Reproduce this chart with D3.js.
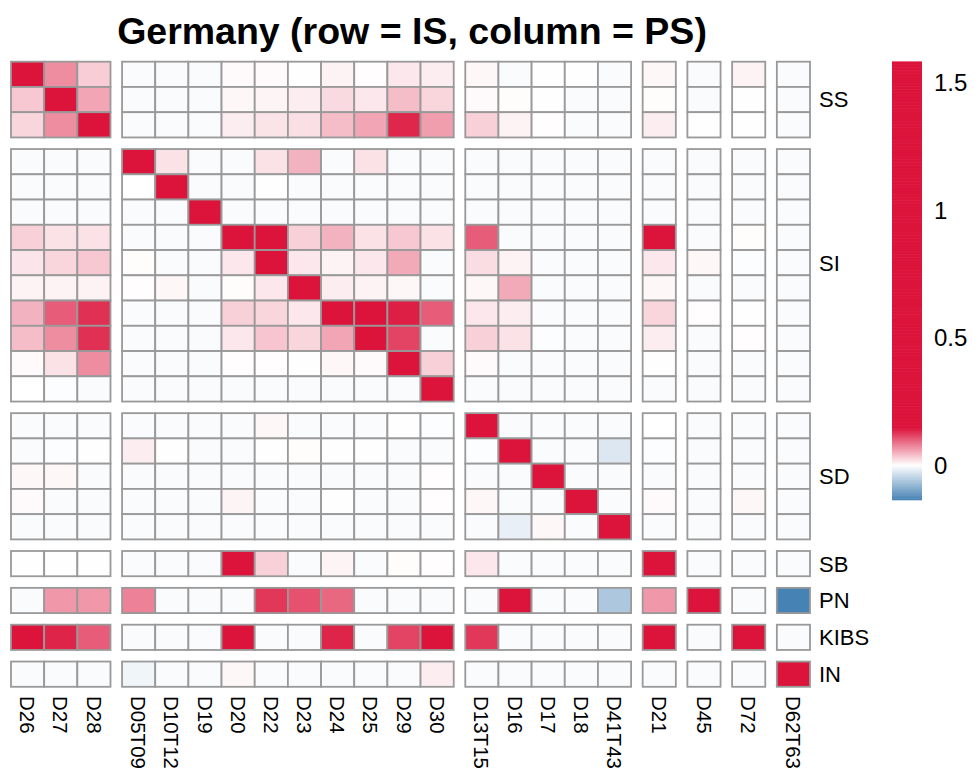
<!DOCTYPE html>
<html>
<head>
<meta charset="utf-8">
<script src="https://cdn.jsdelivr.net/npm/d3@7"></script>
<style>
  html, body { margin: 0; padding: 0; background: #ffffff; }
  svg { display: block; font-family: "Liberation Sans", Arial, Helvetica, sans-serif; }
</style>
</head>
<body>
<svg id="chart" width="979" height="783"></svg>
<script>
// ---------------- data ----------------
const title = "Germany (row = IS, column = PS)";
const sectors = ["D26","D27","D28",
  "D05T09","D10T12","D19","D20","D22","D23","D24","D25","D29","D30",
  "D13T15","D16","D17","D18","D41T43",
  "D21","D45","D72","D62T63"];
const groupNames = ["SS","SI","SD","SB","PN","KIBS","IN"];
const groupSizes = [3, 10, 5, 1, 1, 1, 1];
const legendTicks = [0, 0.5, 1, 1.5];
const legendRange = [-0.133, 1.582];

// rows = IS (same sector order as columns = PS)
const values = [
  // SS
  [1.21,0.075,0.035, 0,0,0,0.008,0.008,0.003,0.012,0.005,0.018,0.015, 0.009,0,0.003,0.003,0, 0.009,0,0.012,0],
  [0.038,1.35,0.06, 0,0,0,0.009,0.011,0.015,0.027,0.018,0.045,0.03, 0.008,0.006,0.003,0,0, 0.006,0,0.003,0],
  [0.03,0.075,1.18, 0,0,0,0.015,0.021,0.024,0.045,0.06,0.138,0.065, 0.033,0.012,0.005,0,0, 0.015,0.003,0.003,0],
  // SI
  [0,0,0, 1.58,0.022,0,0,0.022,0.052,0,0.022,0,0, 0,0,0,0,0, 0,0,0,0],
  [0,0,0, 0.004,1.1,0,0,0.003,0,0,0,0,0, 0,0,0,0,0, 0,0,0,0],
  [0,0,0, 0,0,1.45,0,0,0,0,0,0,0, 0,0,0,0,0, 0,0,0,0],
  [0.033,0.022,0.022, 0,0,0,0.95,0.42,0.033,0.052,0.022,0.038,0.022, 0.105,0,0,0,0, 0.38,0,0.006,0],
  [0.02,0.03,0.038, 0.006,0,0,0.018,1.02,0.018,0.012,0.018,0.057,0, 0.025,0.012,0,0,0, 0.018,0.009,0.002,0],
  [0.012,0.012,0.012, 0.005,0.009,0,0.006,0.018,1.26,0.015,0.012,0.009,0, 0.009,0.057,0,0,0, 0.009,0,0,0],
  [0.052,0.105,0.132, 0,0,0,0.033,0.03,0.018,1.15,0.31,0.143,0.105, 0.018,0.015,0,0,0, 0.03,0.005,0.003,0],
  [0.045,0.075,0.132, 0,0,0,0.018,0.04,0.03,0.06,1.08,0.12,0, 0.033,0.022,0.002,0,0, 0.015,0,0.005,0],
  [0.008,0.022,0.075, 0,0,0,0.005,0.005,0.003,0.009,0.008,1.3,0.033, 0.008,0,0,0,0, 0.003,0,0,0],
  [0.004,0.002,0, 0,0,0,0,0,0,0,0,0,1.22, 0,0,0,0,0, 0,0,0,0],
  // SD
  [0,0,0, 0,0,0,0,0.009,0,0,0,0.003,0.002, 1.4,0,0,0,0, 0.004,0,0,0],
  [0,0.002,0.003, 0.015,0.003,0,0,0.003,0.006,0.003,0.003,0,0, 0.002,1.25,0,0,-0.022, 0.002,0,0,0],
  [0.009,0.009,0, 0,0,0,0,0,0,0,0,0,0.005, 0,0,1.33,0,0, 0,0,0,0],
  [0.008,0,0, 0,0,0,0.011,0,0,0.003,0,0,0.005, 0.009,0,0,1.19,0, 0.008,0,0.009,0],
  [0,0,0, 0,0,0,0,0,0,0,0,0,0, 0,-0.013,0.009,0,1.12, 0,0,0,0],
  // SB
  [0.003,0.003,0.003, 0,0,0,0.52,0.033,0,0.011,0,0.006,0.005, 0.018,0,0,0,0, 1.05,0,0,0],
  // PN
  [0,0.068,0.068, 0.082,0,0,0,0.128,0.112,0.098,0,0,0, 0,0.36,0,0,-0.057, 0.068,0.98,0,-0.133],
  // KIBS
  [0.21,0.14,0.105, 0,0,0,0.27,0,0,0.14,0,0.12,0.19, 0.128,0,0,0,0, 0.33,0,1.16,0],
  // IN
  [0,0,0, -0.007,0,0,0.009,0,0,0,0,0,0.015, 0,0,0,0,0, 0,0,0,0.85]
];

// ---------------- layout ----------------
const svg = d3.select("#chart");
const gapX = 0.3484, gapY = 0.4594;   // gap size in cell units
const nGroups = groupSizes.length;
const groupOf = [];
groupSizes.forEach((s, g) => { for (let k = 0; k < s; k++) groupOf.push(g); });
const groupStart = groupSizes.map((s, g) => d3.sum(groupSizes.slice(0, g)));

const x = d3.scaleLinear()
  .domain([0, sectors.length + (nGroups - 1) * gapX])
  .range([11, 810]);
const y = d3.scaleLinear()
  .domain([0, sectors.length + (nGroups - 1) * gapY])
  .range([61.7, 686.8]);
const colPos = i => x(i + groupOf[i] * gapX);
const rowPos = i => y(i + groupOf[i] * gapY);
const cw = x(1) - x(0), ch = y(1) - y(0);

const color = d3.scaleLinear()
  .domain([legendRange[0], 0.004, 0.15])
  .range(["#4682B4", "#FFFFFF", "#DC143C"])
  .interpolate(d3.interpolateRgb)
  .clamp(true);

// title
svg.append("text")
  .attr("x", 412)
  .attr("y", 44)
  .attr("text-anchor", "middle")
  .attr("font-size", 37.5)
  .attr("font-weight", "bold")
  .attr("fill", "#000")
  .text(title);

// cells
const cells = [];
values.forEach((row, r) => row.forEach((v, c) => cells.push({ r, c, v })));
svg.append("g").selectAll("rect")
  .data(cells)
  .join("rect")
  .attr("x", d => colPos(d.c))
  .attr("y", d => rowPos(d.r))
  .attr("width", cw)
  .attr("height", ch)
  .attr("fill", d => color(d.v))
  .attr("stroke", "#999999")
  .attr("stroke-width", 1.8);

// row labels (one per group)
svg.append("g").selectAll("text")
  .data(groupNames)
  .join("text")
  .attr("x", 819)
  .attr("y", (d, g) => {
    const idx = groupStart[g] + Math.ceil(groupSizes[g] / 2) - 1;
    return rowPos(idx) + ch / 2;
  })
  .attr("dy", "0.36em")
  .attr("font-size", 22)
  .attr("fill", "#000")
  .text(d => d);

// column labels (rotated)
svg.append("g").selectAll("text")
  .data(sectors)
  .join("text")
  .attr("transform", (d, i) => `translate(${colPos(i) + cw / 2},696) rotate(90)`)
  .attr("dy", "0.36em")
  .attr("font-size", 20.5)
  .attr("fill", "#000")
  .text(d => d);

// legend
const ly = d3.scaleLinear().domain(legendRange).range([500, 61.7]);
const nSteps = 300;
const stepVals = d3.range(nSteps).map(k => legendRange[0] + (legendRange[1] - legendRange[0]) * (k + 0.5) / nSteps);
const stepH = (ly(legendRange[0]) - ly(legendRange[1])) / nSteps;
svg.append("g").selectAll("rect")
  .data(stepVals)
  .join("rect")
  .attr("x", 892)
  .attr("y", d => ly(d) - stepH / 2 - 0.3)
  .attr("width", 30)
  .attr("height", stepH + 0.6)
  .attr("fill", d => color(d));

const axis = d3.axisRight(ly)
  .tickValues(legendTicks)
  .tickSize(0)
  .tickPadding(12)
  .tickFormat(d => String(d));
const ag = svg.append("g").attr("transform", "translate(922,0)").call(axis);
ag.select(".domain").remove();
ag.selectAll("text")
  .attr("font-size", 24)
  .attr("font-family", "\"Liberation Sans\", Arial, sans-serif")
  .attr("fill", "#000");
</script>
</body>
</html>
